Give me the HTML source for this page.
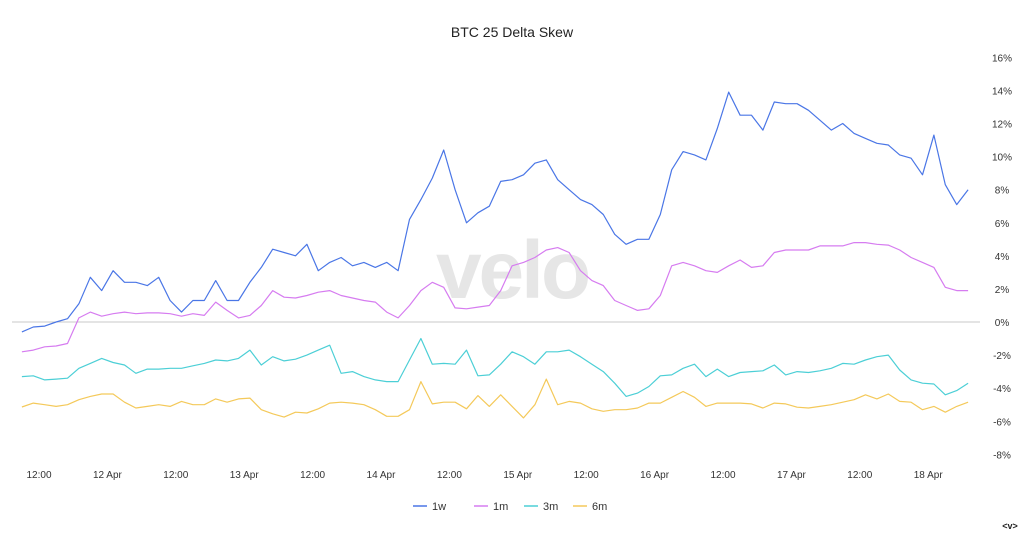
<!DOCTYPE html>
<html><head><meta charset="utf-8"><style>
html,body{margin:0;padding:0;background:#fff;}
svg{display:block;font-family:"Liberation Sans",sans-serif;}
</style></head><body>
<svg id="chart" width="1024" height="536" viewBox="0 0 1024 536" xmlns="http://www.w3.org/2000/svg">
<rect width="1024" height="536" fill="#fff"/>
<text x="512" y="37" text-anchor="middle" font-size="14" fill="#222">BTC 25 Delta Skew</text>
<text x="512" y="298" text-anchor="middle" font-size="82" font-weight="bold" fill="#e6e6e6" letter-spacing="-3">velo</text>
<g id="yaxis"></g>
<g id="xaxis"></g>
<line x1="12" x2="980" y1="322" y2="322" stroke="#c8c8c8" stroke-width="1"/>
<g id="series"></g>
<g id="legend"></g>
<text x="1010" y="529" text-anchor="middle" font-size="9" font-weight="bold" fill="#222">&lt;v&gt;</text>
</svg>
<script>
const startHour = 9;
const stepHours = 2;
const yTicks = [16,14,12,10,8,6,4,2,0,-2,-4,-6,-8];
const xTickHours = [12,24,36,48,60,72,84,96,108,120,132,144,156,168];
const xTickLabels = ["12:00","12 Apr","12:00","13 Apr","12:00","14 Apr","12:00","15 Apr","12:00","16 Apr","12:00","17 Apr","12:00","18 Apr"];
const seriesNames = ["1w","1m","3m","6m"];
const seriesColors = ["#4a76e6","#d67cf0","#4ccfd6","#f4c95a"];
const s1w = [-0.6,-0.3,-0.25,0,0.2,1.1,2.7,1.9,3.1,2.4,2.4,2.2,2.7,1.3,0.6,1.3,1.3,2.5,1.3,1.3,2.4,3.3,4.4,4.2,4.0,4.7,3.1,3.6,3.9,3.4,3.6,3.3,3.6,3.1,6.2,7.4,8.7,10.4,8.0,6.0,6.6,7.0,8.5,8.6,8.9,9.6,9.8,8.6,8.0,7.4,7.1,6.5,5.3,4.7,5.0,5.0,6.5,9.2,10.3,10.1,9.8,11.7,13.9,12.5,12.5,11.6,13.3,13.2,13.2,12.8,12.2,11.6,12.0,11.4,11.1,10.8,10.7,10.1,9.9,8.9,11.3,8.3,7.1,8.0];
const s1m = [-1.8,-1.7,-1.5,-1.45,-1.3,0.25,0.6,0.35,0.5,0.6,0.5,0.55,0.55,0.5,0.35,0.5,0.4,1.2,0.7,0.25,0.4,1.0,1.9,1.5,1.45,1.6,1.8,1.9,1.6,1.45,1.3,1.2,0.6,0.25,1.0,1.9,2.4,2.1,0.85,0.8,0.9,1.0,1.9,3.4,3.6,3.9,4.35,4.5,4.2,3.1,2.5,2.2,1.3,1.0,0.7,0.8,1.6,3.4,3.6,3.4,3.1,3.0,3.4,3.75,3.3,3.4,4.2,4.35,4.35,4.35,4.6,4.6,4.6,4.8,4.8,4.7,4.65,4.35,3.9,3.6,3.3,2.1,1.9,1.9];
const s3m = [-3.3,-3.25,-3.5,-3.45,-3.4,-2.8,-2.5,-2.2,-2.45,-2.6,-3.1,-2.85,-2.85,-2.8,-2.8,-2.65,-2.5,-2.3,-2.35,-2.2,-1.7,-2.6,-2.1,-2.35,-2.25,-2.0,-1.7,-1.4,-3.1,-3.0,-3.3,-3.5,-3.6,-3.6,-2.3,-1.0,-2.55,-2.5,-2.55,-1.7,-3.25,-3.2,-2.55,-1.8,-2.1,-2.55,-1.8,-1.8,-1.7,-2.1,-2.55,-3.0,-3.7,-4.5,-4.3,-3.9,-3.25,-3.2,-2.8,-2.55,-3.3,-2.85,-3.3,-3.05,-3.0,-2.95,-2.6,-3.2,-3.0,-3.05,-2.95,-2.8,-2.5,-2.55,-2.3,-2.1,-2.0,-2.9,-3.5,-3.7,-3.75,-4.4,-4.15,-3.7];
const s6m = [-5.14,-4.9,-5.0,-5.1,-5.0,-4.7,-4.5,-4.35,-4.35,-4.85,-5.2,-5.1,-5.0,-5.1,-4.8,-5.0,-5.0,-4.65,-4.85,-4.65,-4.6,-5.3,-5.55,-5.75,-5.45,-5.5,-5.25,-4.9,-4.85,-4.9,-5.0,-5.3,-5.7,-5.7,-5.3,-3.6,-4.95,-4.85,-4.85,-5.25,-4.45,-5.1,-4.4,-5.1,-5.8,-5.0,-3.45,-5.0,-4.8,-4.9,-5.25,-5.4,-5.3,-5.3,-5.2,-4.9,-4.9,-4.55,-4.2,-4.55,-5.1,-4.9,-4.9,-4.9,-4.95,-5.2,-4.9,-4.95,-5.15,-5.2,-5.1,-5.0,-4.85,-4.7,-4.4,-4.65,-4.35,-4.8,-4.85,-5.3,-5.1,-5.45,-5.1,-4.85];
const allSeries = [s1w,s1m,s3m,s6m];

const NS="http://www.w3.org/2000/svg";
function xScale(h){return 39+(h-12)*(68.4/12);}
function yScale(v){return 322-v*(397/24);}
function mk(tag,attrs,parent){const e=document.createElementNS(NS,tag);for(const k in attrs)e.setAttribute(k,attrs[k]);parent.appendChild(e);return e;}

const yg=document.getElementById('yaxis');
yTicks.forEach(v=>{
  const t=mk('text',{x:1002,y:yScale(v)+4,'text-anchor':'middle','font-size':'10',fill:'#333'},yg);
  
  
  t.textContent=v+'%';
});
const xg=document.getElementById('xaxis');
xTickHours.forEach((h,i)=>{
  const t=mk('text',{x:xScale(h),y:478,'text-anchor':'middle','font-size':'10',fill:'#333'},xg);
  
  
  t.textContent=xTickLabels[i];
});
const sg=document.getElementById('series');
allSeries.forEach((arr,si)=>{
  const pts=arr.map((v,i)=>xScale(startHour+i*stepHours).toFixed(1)+','+yScale(v).toFixed(1)).join(' ');
  const p=mk('polyline',{points:pts,fill:'none',stroke:seriesColors[si],'stroke-width':'1.2','stroke-linejoin':'round'},sg);
  
  
});
const lg=document.getElementById('legend');
const legendX=[413,474,524,573];
seriesNames.forEach((n,i)=>{
  const g=mk('g',{},lg);
  
  
  mk('line',{x1:legendX[i],x2:legendX[i]+14,y1:506,y2:506,stroke:seriesColors[i],'stroke-width':'1.5'},g);
  const t=mk('text',{x:legendX[i]+19,y:510,'font-size':'11',fill:'#333'},g);
  t.textContent=n;
});
</script>
</body></html>
